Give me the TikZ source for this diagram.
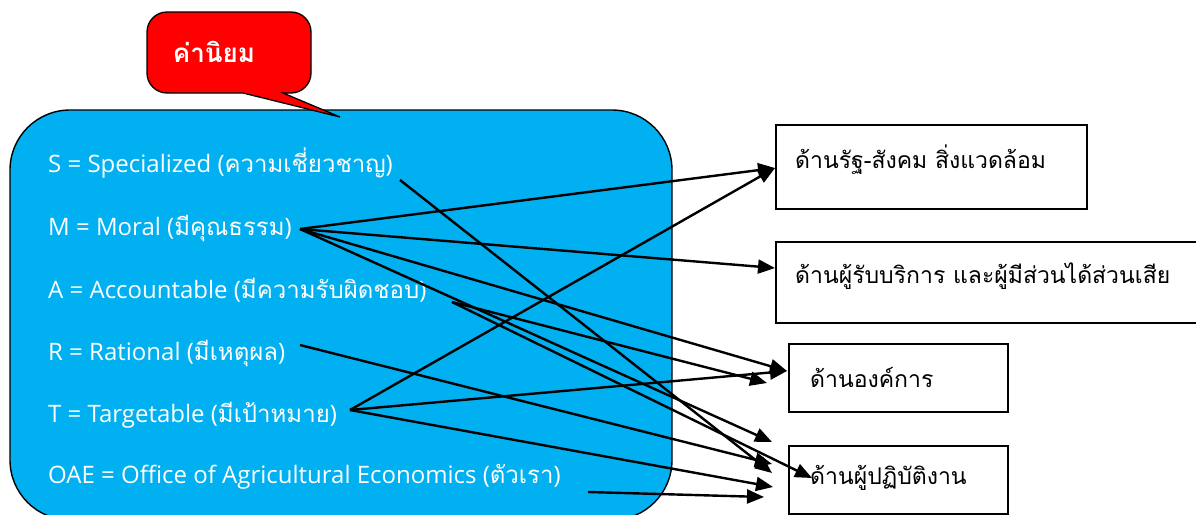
\documentclass[tikz,border=0pt]{standalone}
\usepackage{fontspec}
\setmainfont{Open Sans}
\newfontfamily\tf[Script=Thai]{Loma}
\usetikzlibrary{arrows.meta}
\definecolor{boxblue}{HTML}{00B0F0}
\definecolor{calred}{HTML}{FF0000}
\begin{document}
\begin{tikzpicture}[x=1pt,y=1pt,
  lefttxt/.style={anchor=west,text=white,font=\fontsize{24}{28}\selectfont,inner sep=0pt},
  rbox/.style={draw=black,line width=1.5pt,fill=white,anchor=north west,inner sep=0pt},
  rtxt/.style={anchor=west,font=\tf\fontsize{23}{27}\selectfont,inner sep=0pt},
  conn/.style={line width=2.4pt,-{Triangle[length=17pt,width=14pt]}}]
\useasboundingbox (0,0) rectangle (1196,-514);
% blue panel
\draw[fill=boxblue,line width=1.4pt,rounded corners=60pt] (10,-110) rectangle (672,-520);
% callout
\draw[fill=calred,line width=1.3pt,line join=miter]
  (167,-12) -- (291,-12) arc[start angle=90,end angle=0,radius=20pt]
  -- (311,-73) arc[start angle=0,end angle=-90,radius=20pt]
  -- (283,-93) -- (340,-117) -- (243,-93) -- (167,-93)
  arc[start angle=270,end angle=180,radius=20pt]
  -- (147,-32) arc[start angle=180,end angle=90,radius=20pt] -- cycle;
\node[text=white,font=\tf\bfseries\fontsize{26}{30}\selectfont,inner sep=0pt] (title) at (214,-52) {ค่านิยม};
% left texts
\node[lefttxt] (s) at (48,-163) {S = Specialized ({\tf ความเชี่ยวชาญ})};
\node[lefttxt] (m) at (48,-228) {M = Moral ({\tf มีคุณธรรม})};
\node[lefttxt] (a) at (48,-290) {A = Accountable ({\tf มีความรับผิดชอบ})};
\node[lefttxt] (r) at (48,-353) {R = Rational ({\tf มีเหตุผล})};
\node[lefttxt] (t) at (48,-415) {T = Targetable ({\tf มีเป้าหมาย})};
\node[lefttxt] (o) at (48,-477) {OAE = Office of Agricultural Economics ({\tf ตัวเรา})};
% right boxes
\node[rbox,minimum width=311pt,minimum height=84pt] (b1) at (775,-124) {};
\node[rbox,minimum width=425pt,minimum height=81pt] (b2) at (775,-241) {};
\node[rbox,minimum width=219pt,minimum height=68pt] (b3) at (788,-343) {};
\node[rbox,minimum width=219pt,minimum height=68pt] (b4) at (788,-445) {};
\node[rtxt] (l1) at (795,-160) {ด้านรัฐ-สังคม สิ่งแวดล้อม};
\node[rtxt] (l2) at (795,-276) {ด้านผู้รับบริการ และผู้มีส่วนได้ส่วนเสีย};
\node[rtxt] (l3) at (810,-377) {ด้านองค์การ};
\node[rtxt] (l4) at (810,-478) {ด้านผู้ปฏิบัติงาน};
% start points
\coordinate (sS) at (400,-180);
\coordinate (sM) at (300,-229);
\coordinate (sA) at (452,-302);
\coordinate (sR) at (300,-345);
\coordinate (sT) at (350,-410);
\coordinate (sO) at (588,-492);
% tips
\coordinate (pR1) at (775,-168);
\coordinate (pC1) at (775,-268);
\coordinate (pO1) at (787,-371);
\coordinate (pO2) at (767,-383);
\coordinate (pW1) at (772,-442);
\coordinate (pW2) at (772,-464);
\coordinate (pW3) at (772,-473);
\coordinate (pW4) at (773,-487);
\coordinate (pW5) at (764,-497);
\coordinate (pW6) at (812,-478);
% connectors
\draw[conn] (sS) -- (pW3);
\draw[conn] (sM) -- (pR1);
\draw[conn] (sM) -- (pC1);
\draw[conn] (sM) -- (pO1);
\draw[conn] (sM) -- (pW1);
\draw[conn] (sA) -- (pO2);
\draw[conn] (sA) -- (pW6);
\draw[conn] (sR) -- (pW2);
\draw[conn] (sT) -- (pR1);
\draw[conn] (sT) -- (pO1);
\draw[conn] (sT) -- (pW4);
\draw[conn] (sO) -- (pW5);
\end{tikzpicture}
\end{document}
